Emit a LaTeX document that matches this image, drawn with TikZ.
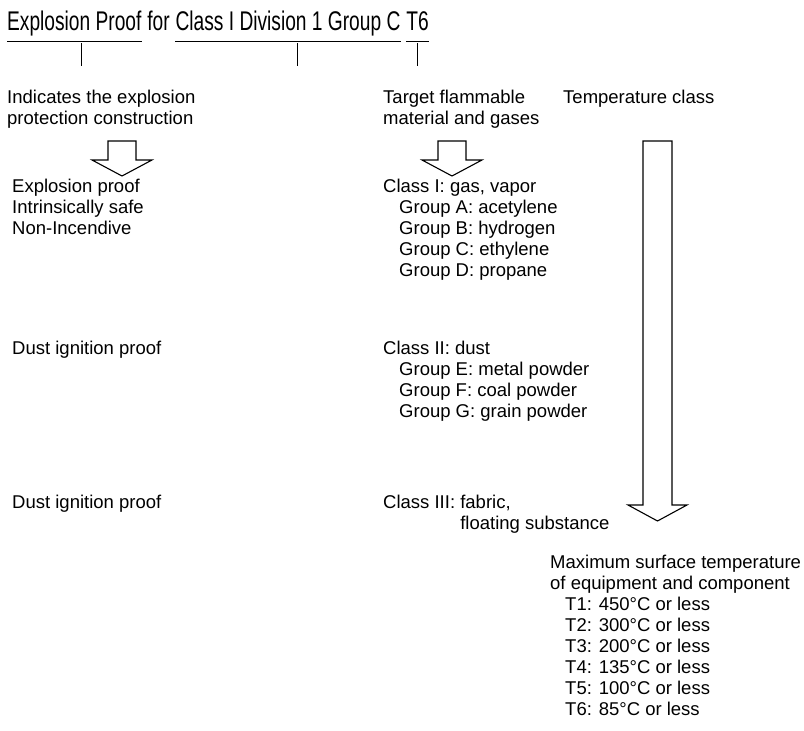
\documentclass[tikz,border=0pt]{standalone}
\usepackage{fontspec}
\setmainfont{Liberation Sans}
\newfontfamily\headfont[FakeStretch=0.71]{Liberation Sans}
\usetikzlibrary{calc}

\tikzset{
  bodytext/.style={anchor=base west, inner sep=0pt, font=\fontsize{18.5}{21}\selectfont},
  headtext/.style={anchor=base west, inner sep=0pt, font=\headfont\fontsize{27}{32}\selectfont},
  rule/.style={line width=0.9pt},
  hollow/.style={line width=1.1pt, fill=white, line join=miter},
}

\begin{document}
\begin{tikzpicture}[x=1pt, y=-1pt]
  \useasboundingbox (0,0) rectangle (804,731);

  % Title line
  \node[headtext] (ep) at (7,30) {Explosion Proof};
  \node[headtext] (fr) at ([xshift=5.5pt]ep.base east) {for};
  \node[headtext] (cls) at ([xshift=5.5pt]fr.base east) {Class I Division 1 Group C};
  \node[headtext] (tcl) at ([xshift=5.5pt]cls.base east) {T6};

  % Underlines and ticks
  \foreach \part/\pos in {ep/0.55, cls/0.54, tcl/0.5} {
    \draw[rule] ([yshift=-11pt]\part.base west) -- ([yshift=-11pt]\part.base east);
    \coordinate (\part-mid) at ($(\part.base west)!\pos!(\part.base east)$);
    \draw[rule] ([yshift=-13pt]\part-mid) -- ([yshift=-36pt]\part-mid);
  }

  % Column headers
  \node[bodytext] (ind1) at (7,103) {Indicates the explosion};
  \node[bodytext] (ind2) at (7,124) {protection construction};
  \node[bodytext] (tgt1) at (383,103) {Target flammable};
  \node[bodytext] (tgt2) at (383,124) {material and gases};
  \node[bodytext] (tmp) at (563,103) {Temperature class};

  % Hollow arrows
  \foreach \cx in {122, 452}
    \draw[hollow] (\cx-14,141) -- (\cx+14,141) -- (\cx+14,160) -- (\cx+30,160)
      -- (\cx,176) -- (\cx-30,160) -- (\cx-14,160) -- cycle;
  \draw[hollow] (643,141) -- (672,141) -- (672,505) -- (687,505)
    -- (657.5,521) -- (628,505) -- (643,505) -- cycle;

  % Protection types
  \foreach \txt [count=\i] in {Explosion proof, Intrinsically safe, Non-Incendive}
    \node[bodytext] (prot\i) at (12,171+21*\i) {\txt};
  \node[bodytext] (dust1) at (12,354) {Dust ignition proof};
  \node[bodytext] (dust2) at (12,508) {Dust ignition proof};

  % Classes and groups
  \node[bodytext] (cl1) at (383,192) {Class I: gas, vapor};
  \foreach \g/\txt [count=\i] in {A/acetylene, B/hydrogen, C/ethylene, D/propane}
    \node[bodytext] (grp\g) at (399,192+21*\i) {Group \g: \txt};
  \node[bodytext] (cl2) at (383,354) {Class II: dust};
  \foreach \g/\txt [count=\i] in {E/metal powder, F/coal powder, G/grain powder}
    \node[bodytext] (grp\g) at (399,354+21*\i) {Group \g: \txt};
  \node[bodytext] (cl3) at (383,508) {Class III: fabric,};
  \node[bodytext] (cl3b) at (383,529) {\hphantom{Class III: }floating substance};

  % Temperature classes
  \node[bodytext] (max1) at (550,568) {Maximum surface temperature};
  \node[bodytext] (max2) at (550,589) {of equipment and component};
  \foreach \t/\temp [count=\i] in {1/450, 2/300, 3/200, 4/135, 5/100, 6/85}
    \node[bodytext] (temp\t) at (565,589+21*\i) {T\t: \temp°C or less};
\end{tikzpicture}
\end{document}
